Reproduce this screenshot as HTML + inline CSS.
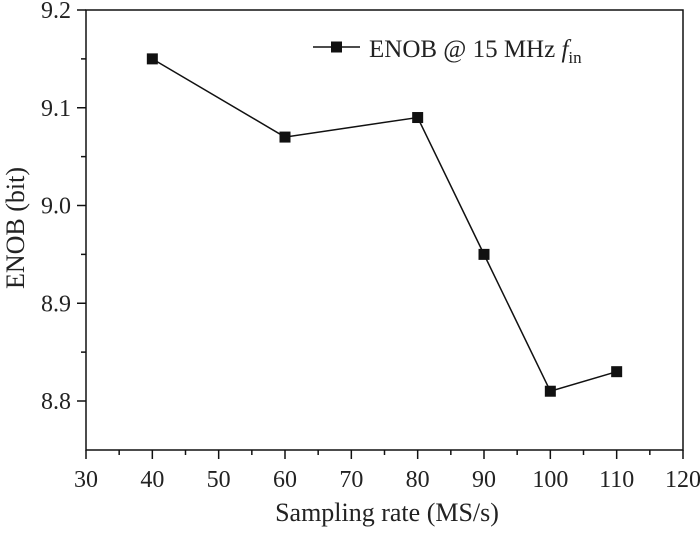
<!DOCTYPE html>
<html><head><meta charset="utf-8"><style>
html,body{margin:0;padding:0;background:#fff;}
svg text{font-family:"Liberation Serif",serif;fill:#222;}
</style></head><body>
<svg id="chart" width="700" height="528" viewBox="0 0 700 528" xmlns="http://www.w3.org/2000/svg">
<g id="axes"></g>
<g id="series"></g>
<g>
<line x1="313" y1="47" x2="360" y2="47" stroke="#111" stroke-width="1.5"/>
<rect x="331" y="41.5" width="11" height="11" fill="#111"/>
<text x="369" y="57" font-size="25">ENOB @ 15 MHz <tspan font-style="italic">f</tspan><tspan font-size="17" dy="6">in</tspan></text>
</g>
<text x="387" y="521" font-size="26" text-anchor="middle">Sampling rate (MS/s)</text>
<text transform="translate(24,228) rotate(-90)" font-size="26" text-anchor="middle">ENOB (bit)</text>
</svg>
<script>
const categories = [40, 60, 80, 90, 100, 110];
const enobValues = [9.15, 9.07, 9.09, 8.95, 8.81, 8.83];
const xTicks = [30, 40, 50, 60, 70, 80, 90, 100, 110, 120];
const yTicks = [8.8, 8.9, 9.0, 9.1, 9.2];

const L=86,R=683,T=10,B=450;
const xMin=30,xMax=120;
const yTop=10,y88=401;
function sx(v){return L+(v-xMin)/(xMax-xMin)*(R-L);}
function sy(v){return y88-(v-8.8)/0.4*(y88-yTop);}
const NS="http://www.w3.org/2000/svg";
function mk(tag,attrs,parent){const e=document.createElementNS(NS,tag);for(const k in attrs)e.setAttribute(k,attrs[k]);parent.appendChild(e);return e;}
const ax=document.getElementById('axes');
const frame=mk('rect',{x:L,y:T,width:R-L,height:B-T,fill:'none',stroke:'#111','stroke-width':1.5},ax);


xTicks.forEach((v,i)=>{
  const x=sx(v);
  const t=mk('line',{x1:x,y1:B,x2:x,y2:B+9,stroke:'#111','stroke-width':1.5},ax);
  
  
  if(i<xTicks.length-1){const m=sx(v+5);mk('line',{x1:m,y1:B,x2:m,y2:B+5,stroke:'#111','stroke-width':1.5},ax);}
  const lb=mk('text',{x:x,y:B+37,'font-size':24,'text-anchor':'middle'},ax);
  lb.textContent=v;
  
  
});
yTicks.forEach((v,i)=>{
  const y=sy(v);
  const t=mk('line',{x1:L-9,y1:y,x2:L,y2:y,stroke:'#111','stroke-width':1.5},ax);
  
  
  if(i<yTicks.length-1){const m=sy(v+0.05);mk('line',{x1:L-5,y1:m,x2:L,y2:m,stroke:'#111','stroke-width':1.5},ax);}
  const lb=mk('text',{x:L-15,y:y+8,'font-size':24,'text-anchor':'end'},ax);
  lb.textContent=v.toFixed(1);
  
  
});
const s=document.getElementById('series');
const pl=mk('polyline',{points:categories.map((c,i)=>sx(c)+','+sy(enobValues[i])).join(' '),fill:'none',stroke:'#111','stroke-width':1.5},s);


categories.forEach((c,i)=>{
  const r=mk('rect',{x:sx(c)-5.5,y:sy(enobValues[i])-5.5,width:11,height:11,fill:'#111'},s);
  
  
});
</script>
</body></html>
